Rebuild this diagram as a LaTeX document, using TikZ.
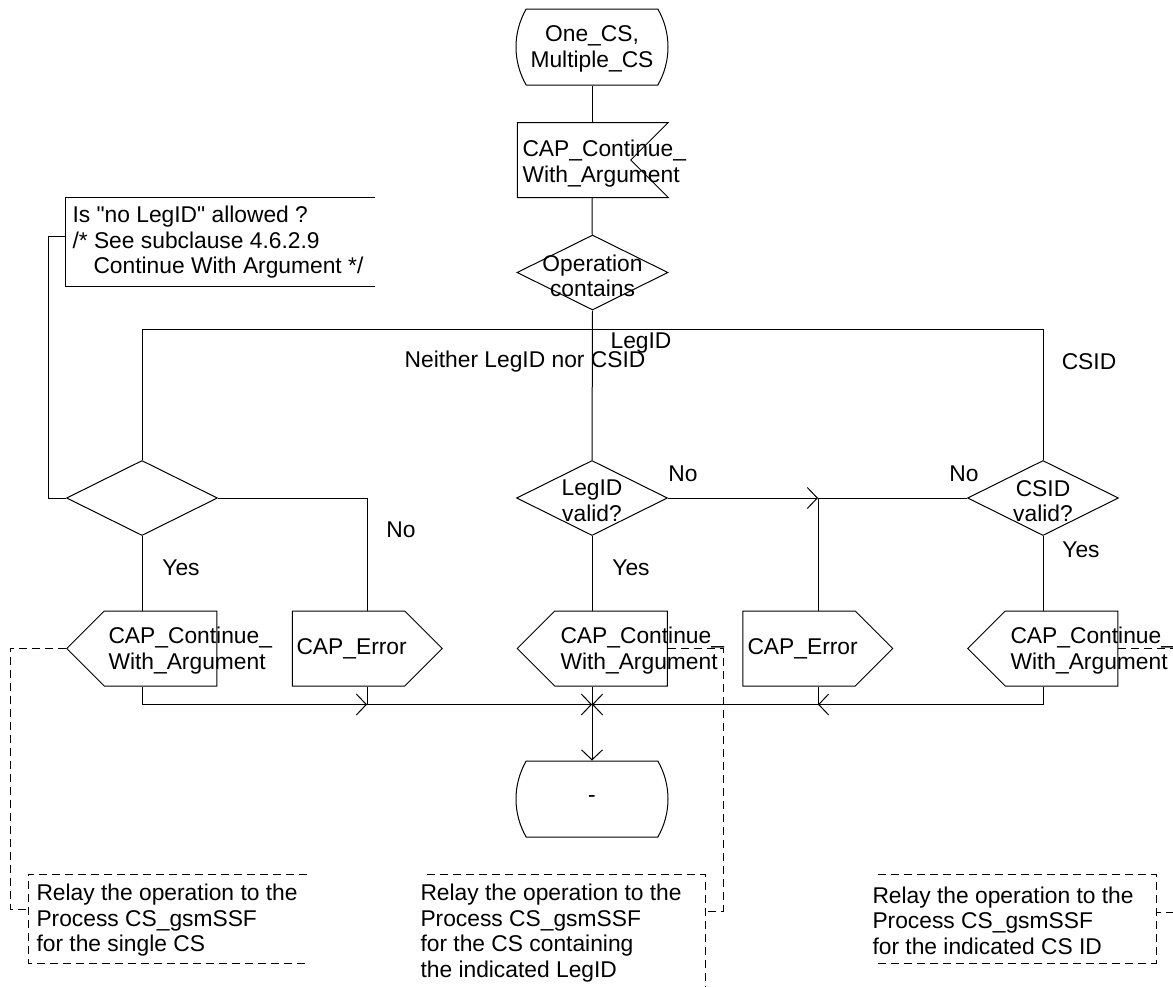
\documentclass[tikz,border=0pt]{standalone}
\usepackage{fontspec}
\setmainfont{Liberation Sans}
\usepackage{tikz}
\usetikzlibrary{arrows.meta, shapes.geometric, shapes.misc, shapes.symbols}

\begin{document}
\begin{tikzpicture}[x=0.5pt, y=-0.5pt, line width=0.5pt, >={Straight Barb[length=5pt, width=10.5pt]},
        every node/.style={font=\fontsize{11.4}{12.75}\selectfont, inner sep=0pt},
        term/.style={draw, rounded rectangle, rounded rectangle arc length=60, minimum width=75pt, minimum height=38pt},
        inbox/.style={draw, signal, signal to=nowhere, signal from=east, signal pointer angle=90, minimum width=75.5pt, minimum height=37.5pt},
        outleft/.style={draw, signal, signal to=west, signal pointer angle=90, minimum width=75pt, minimum height=37.5pt},
        outright/.style={draw, signal, signal to=east, signal pointer angle=90, minimum width=75pt, minimum height=37.5pt},
        decision/.style={draw, diamond, minimum width=75.5pt, minimum height=37.5pt},
        txt/.style={align=left, anchor=west},
        ctr/.style={align=center},
        note/.style={dash pattern=on 4pt off 2.5pt}]
        \useasboundingbox (0,0) rectangle (1173,986);

        % Nodes
        \node[term] (start) at (592,47) {};
        \node[inbox] (inp) at (574,160) {};
        \node[decision] (op) at (592.5,272.5) {};
        \node[decision] (dL) at (142,498) {};
        \node[decision] (dM) at (592,498) {};
        \node[decision] (dR) at (1043,498) {};
        \node[outleft] (outL) at (160.5,648.5) {};
        \node[outright] (errL) at (348.5,648.5) {};
        \node[outleft] (outM) at (611,648.5) {};
        \node[outright] (errM) at (799,648.5) {};
        \node[outleft] (outR) at (1061.5,648.5) {};
        \node[term] (stop) at (592,799) {};

        % Texts
        \node[ctr] (startT) at (592,49) {One\_CS,\\Multiple\_CS};
        \node[txt] (inpT) at (522,163.5) {CAP\_Continue\_\\With\_Argument};
        \node[ctr] (opT) at (592.5,276) {Operation\\contains};
        \node[ctr] (dMT) at (592,501) {LegID\\valid?};
        \node[ctr] (dRT) at (1043,501) {CSID\\valid?};
        \node[txt] (outLT) at (108,650.5) {CAP\_Continue\_\\With\_Argument};
        \node[txt] (errLT) at (296,648.5) {CAP\_Error};
        \node[txt] (outMT) at (560,650.5) {CAP\_Continue\_\\With\_Argument};
        \node[txt] (errMT) at (747,648.5) {CAP\_Error};
        \node[txt] (outRT) at (1010,650.5) {CAP\_Continue\_\\With\_Argument};
        \node (stopT) at (592,799) {-};

        % Comments
        \node[txt] (askT) at (72,242.5) {Is \textquotedbl no LegID\textquotedbl\ allowed ?\\/* See subclause 4.6.2.9\\\hspace*{10.5pt}Continue With Argument */};
        \node[txt] (relL) at (36,920.5) {Relay the operation to the\\Process CS\_gsmSSF\\for the single CS};
        \node[txt] (relM) at (420,933) {Relay the operation to the\\Process CS\_gsmSSF\\for the CS containing\\the indicated LegID};
        \node[txt] (relR) at (872,920.5) {Relay the operation to the\\Process CS\_gsmSSF\\for the indicated CS ID};

        % Branch labels
        \node (lNeither) at (525,362) {Neither LegID nor CSID};
        \node (lLeg) at (641,343) {LegID};
        \node (lCS) at (1089,362) {CSID};
        \node (noL) at (401,530) {No};
        \node (yesL) at (181,568) {Yes};
        \node (noM) at (683,474) {No};
        \node (yesM) at (631,568) {Yes};
        \node (noR) at (964,474) {No};
        \node (yesR) at (1081,550) {Yes};

        % Points
        \coordinate (bL) at (142,329);
        \coordinate (bR) at (1043,329);
        \coordinate (jNo) at (818,498);
        \coordinate (jL) at (367,704.5);
        \coordinate (jM) at (592,704.5);
        \coordinate (jR) at (818,704.5);
        \coordinate (cAsk) at (65,236);
        \coordinate (kAsk) at (48,236);
        \coordinate (kL) at (10,909);
        \coordinate (cL) at (28,909);
        \coordinate (kM) at (723,911);
        \coordinate (cM) at (705,911);
        \coordinate (kR) at (1190,912);
        \coordinate (cR) at (1156,912);

        % Flow lines
        \draw (start) -- (start.south |- inp.north);
        \draw (start.south |- inp.south) -- (op);
        \draw (op.south) -- (dM.north);
        \draw (bL) -- (bR);
        \draw (bL) -- (dL.north);
        \draw (bR) -- (dR.north);
        \draw (dL.east) -| (jL |- errL.north);
        \draw (dL.south) -- (dL.south |- outL.north);
        \draw (dM.south) -- (dM.south |- outM.north);
        \draw (dR.south) -- (dR.south |- outR.north);
        \draw[->] (dM.east) -- (jNo);
        \draw (dR.west) -- (jNo) -- (jNo |- errM.north);
        \draw[->] (dL.south |- outL.south) |- (jL);
        \draw[->] (jL |- errL.south) |- (jM);
        \draw[->] (dR.south |- outR.south) |- (jR);
        \draw[->] (jNo |- errM.south) |- (jM);
        \draw (dM.south |- outM.south) -- (jM);
        \draw[->] (jM) -- (stop.north);

        % Comment symbols
        \draw (375,197) -- (65,197) -- (65,286) -- (375,286);
        \draw (cAsk) -- (kAsk) |- (dL.west);
        \draw[note] (307,874) -- (28,874) -- (28,963) -- (307,963);
        \draw[note] (427,874) -- (705,874) -- (705,1000);
        \draw[note] (878,874) -- (1156,874) -- (1156,963) -- (878,963);
        \draw[note] (outL.west) -| (kL) -- (cL);
        \draw[note] (outM.east) -| (kM) -- (cM);
        \draw[note] (outR.east) -| (kR) -- (cR);
\end{tikzpicture}
\end{document}
